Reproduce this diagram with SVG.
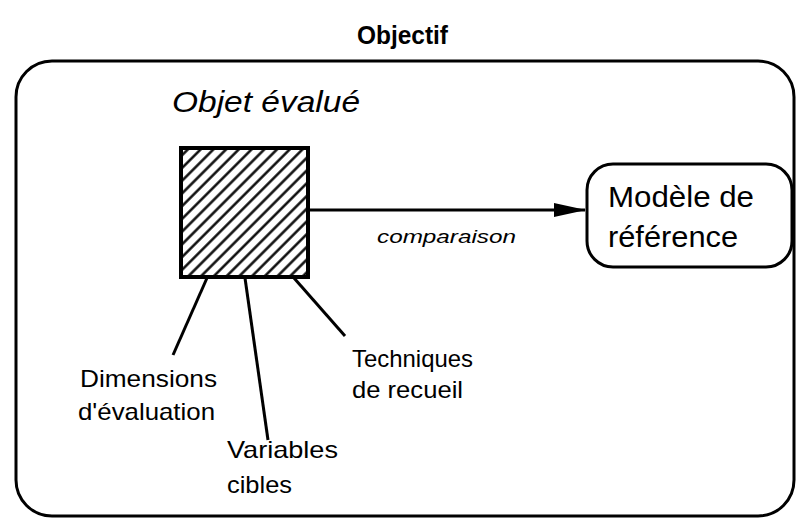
<svg xmlns="http://www.w3.org/2000/svg" width="799" height="521" viewBox="0 0 799 521">
<style>
text{font-family:"Liberation Sans",Arial,sans-serif;fill:#000}
.lbl{font-size:24px}
.big{font-size:29px}
.ln{stroke:#000;stroke-width:3;fill:none}
</style>
<defs>
<pattern id="hatch" patternUnits="userSpaceOnUse" width="9" height="9" patternTransform="rotate(-45)">
<line x1="0" y1="4.5" x2="9" y2="4.5" stroke="#000" stroke-width="2.4"/>
</pattern>
<marker id="arr2" markerWidth="32" markerHeight="18" refX="31" refY="9" orient="auto" markerUnits="userSpaceOnUse" viewBox="0 0 32 18">
<path d="M0,2 L32,9 L0,16 Z" fill="#000"/>
</marker>
</defs>
<text x="357" y="44" font-size="26" font-weight="bold" textLength="91" lengthAdjust="spacingAndGlyphs">Objectif</text>
<g id="frame"><rect x="16" y="61" width="778" height="455" rx="36" class="ln" stroke-width="4"/></g>
<g id="objet">
<text x="172" y="112" class="big" font-style="italic" textLength="188" lengthAdjust="spacingAndGlyphs">Objet évalué</text>
<rect x="181" y="148" width="127" height="129" fill="url(#hatch)" stroke="#000" stroke-width="4"/>
</g>
<g id="modele">
<rect x="587" y="164" width="205" height="103" rx="26" class="ln"/>
<text x="608" y="207" class="big" textLength="146" lengthAdjust="spacingAndGlyphs">Modèle de</text>
<text x="608" y="247" class="big" textLength="130" lengthAdjust="spacingAndGlyphs">référence</text>
</g>
<g id="dimensions"><text x="80" y="387" class="lbl" textLength="137" lengthAdjust="spacingAndGlyphs">Dimensions</text><text x="78" y="420" class="lbl" textLength="137" lengthAdjust="spacingAndGlyphs">d'évaluation</text></g>
<g id="variables"><text x="227" y="458" class="lbl" textLength="111" lengthAdjust="spacingAndGlyphs">Variables</text><text x="227" y="493" class="lbl" textLength="65" lengthAdjust="spacingAndGlyphs">cibles</text></g>
<g id="techniques"><text x="352" y="367" class="lbl" textLength="121" lengthAdjust="spacingAndGlyphs">Techniques</text><text x="352" y="398" class="lbl" textLength="111" lengthAdjust="spacingAndGlyphs">de recueil</text></g>
<g id="connectors">
<line x1="308" y1="210" x2="585" y2="210" class="ln" stroke-width="2.5" marker-end="url(#arr2)"/>
<text x="377" y="243" font-size="19" font-style="italic" textLength="139" lengthAdjust="spacingAndGlyphs">comparaison</text>
<line x1="207" y1="278" x2="173" y2="355" class="ln"/>
<line x1="245" y1="278" x2="268" y2="440" class="ln"/>
<line x1="294" y1="278" x2="345" y2="336" class="ln"/>
</g>
</svg>
